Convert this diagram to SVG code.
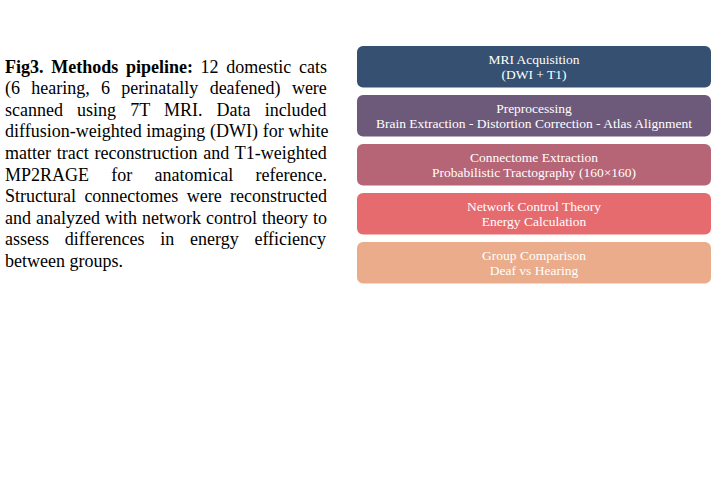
<svg xmlns="http://www.w3.org/2000/svg" width="720" height="499" viewBox="0 0 720 499">
<style>
.p{font-family:"Liberation Serif","Times New Roman",serif;font-size:18px;fill:#000}
.b{font-weight:bold}
.box{stroke:none}
.t{font-family:"Liberation Serif","Times New Roman",serif;font-size:13.5px;fill:#fff;text-anchor:middle}
</style>
<rect width="720" height="499" fill="#fff"/>
<g id="caption">
<text class="p" x="5" y="72.5" word-spacing="3.2"><tspan class="b">Fig3. Methods pipeline:</tspan> 12 domestic cats</text>
<text class="p" x="5" y="94.1" word-spacing="6.8">(6 hearing, 6 perinatally deafened) were</text>
<text class="p" x="5" y="115.7" word-spacing="9.6">scanned using 7T MRI. Data included</text>
<text class="p" x="5" y="137.3" word-spacing="0.2">diffusion-weighted imaging (DWI) for white</text>
<text class="p" x="5" y="158.9" word-spacing="1.3">matter tract reconstruction and T1-weighted</text>
<text class="p" x="5" y="180.5" word-spacing="17.7">MP2RAGE for anatomical reference.</text>
<text class="p" x="5" y="202.1" word-spacing="3.9">Structural connectomes were reconstructed</text>
<text class="p" x="5" y="223.7" word-spacing="0.5">and analyzed with network control theory to</text>
<text class="p" x="5" y="245.3" word-spacing="11.3">assess differences in energy efficiency</text>
<text class="p" x="5" y="266.9">between groups.</text>
</g>
<g id="mri">
<rect class="box" x="357" y="46" width="354" height="41.5" rx="6" fill="#355070"/>
<text class="t" x="534" y="64.3">MRI Acquisition</text>
<text class="t" x="534" y="79.3">(DWI + T1)</text>
</g>
<g id="preprocessing">
<rect class="box" x="357" y="95" width="354" height="41.5" rx="6" fill="#6d597a"/>
<text class="t" x="534" y="113.3">Preprocessing</text>
<text class="t" x="534" y="128.3">Brain Extraction - Distortion Correction - Atlas Alignment</text>
</g>
<g id="connectome">
<rect class="box" x="357" y="144" width="354" height="41.5" rx="6" fill="#b56576"/>
<text class="t" x="534" y="162.3">Connectome Extraction</text>
<text class="t" x="534" y="177.3">Probabilistic Tractography (160×160)</text>
</g>
<g id="nct">
<rect class="box" x="357" y="193" width="354" height="41.5" rx="6" fill="#e56b6f"/>
<text class="t" x="534" y="211.3">Network Control Theory</text>
<text class="t" x="534" y="226.3">Energy Calculation</text>
</g>
<g id="group">
<rect class="box" x="357" y="242" width="354" height="41.5" rx="6" fill="#eaac8b"/>
<text class="t" x="534" y="260.3">Group Comparison</text>
<text class="t" x="534" y="275.3">Deaf vs Hearing</text>
</g>
<g id="connectors"></g>
</svg>
